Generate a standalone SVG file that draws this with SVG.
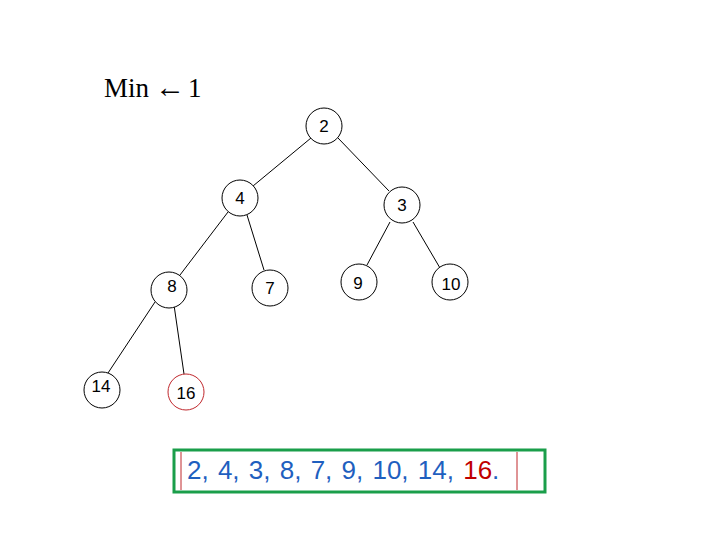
<svg xmlns="http://www.w3.org/2000/svg" width="720" height="540" viewBox="0 0 720 540">
<style>
.n circle{fill:#fff;stroke:#000;stroke-width:1}
.n text{font-family:"Liberation Sans",Arial,sans-serif;font-size:17px;fill:#000;text-anchor:middle}
.e line{stroke:#000;stroke-width:1}
</style>
<rect width="720" height="540" fill="#fff"/>
<text x="104" y="97" font-family="Liberation Serif,'Times New Roman',serif" font-size="27" fill="#000">Min<tspan font-size="30" dx="6">←</tspan><tspan dx="3">1</tspan></text>
<g id="connectors" class="e">
<line x1="311" y1="138" x2="253" y2="186"/>
<line x1="338" y1="138" x2="389" y2="191"/>
<line x1="228" y1="212" x2="180" y2="275"/>
<line x1="247" y1="215" x2="264" y2="270"/>
<line x1="390" y1="222" x2="367" y2="265"/>
<line x1="413" y1="222" x2="440" y2="268"/>
<line x1="155" y1="302" x2="108" y2="373"/>
<line x1="174" y1="305" x2="184" y2="374"/>
</g>
<g id="n2" class="n"><circle cx="324" cy="126" r="18"/><text x="324" y="132">2</text></g>
<g id="n4" class="n"><circle cx="240" cy="198" r="18"/><text x="240" y="204">4</text></g>
<g id="n3" class="n"><circle cx="402" cy="205" r="18"/><text x="402" y="211">3</text></g>
<g id="n8" class="n"><circle cx="169" cy="290" r="18"/><text x="172" y="292">8</text></g>
<g id="n7" class="n"><circle cx="270" cy="288" r="18"/><text x="270" y="294">7</text></g>
<g id="n9" class="n"><circle cx="359" cy="282" r="18"/><text x="358" y="289">9</text></g>
<g id="n10" class="n"><circle cx="450" cy="282" r="18"/><text x="451" y="290">10</text></g>
<g id="n14" class="n"><circle cx="102" cy="390" r="18"/><text x="101" y="392">14</text></g>
<g id="n16" class="n"><circle cx="186" cy="392" r="18" style="stroke:#c0282d"/><text x="186" y="399">16</text></g>
<g id="array">
<rect x="174" y="450" width="371" height="42" fill="none" stroke="#1a9e4a" stroke-width="3"/>
<line x1="181" y1="452" x2="181" y2="490" stroke="#c0282d" stroke-width="1"/>
<line x1="517" y1="452" x2="517" y2="490" stroke="#c0282d" stroke-width="1"/>
<text x="187" y="479" font-family="Liberation Sans,Arial,sans-serif" font-size="26" word-spacing="2" fill="#1f5fbf">2, 4, 3, 8, 7, 9, 10, 14, <tspan fill="#c00000">16</tspan><tspan fill="#1f5fbf">.</tspan></text>
</g>
</svg>
